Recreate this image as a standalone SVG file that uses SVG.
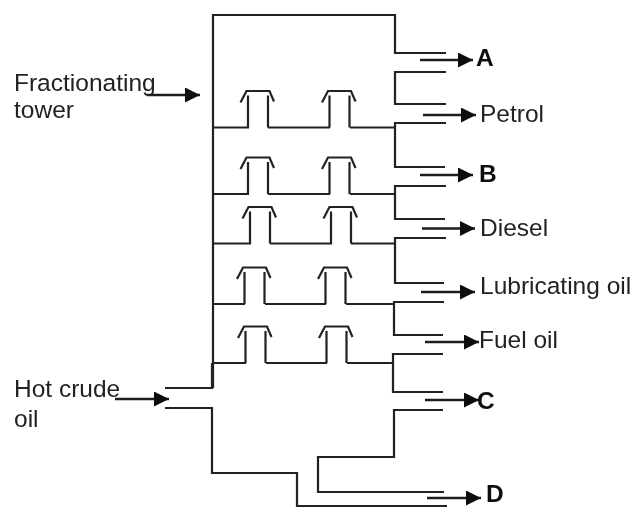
<svg xmlns="http://www.w3.org/2000/svg" width="633" height="508" viewBox="0 0 633 508">
<style>
.l{fill:none;stroke:#222;stroke-width:2.200}
.a{fill:none;stroke:#1a1a1a;stroke-width:2.400}
.c{fill:none;stroke:#222;stroke-width:2.200;stroke-linejoin:miter}
text{font-family:"Liberation Sans",Arial,sans-serif;font-size:24.500px;fill:#222}
.b{font-weight:bold;fill:#111}
.s{filter:url(#soft)}
</style>
<defs>
<filter id="soft" x="0" y="0" width="633" height="508" filterUnits="userSpaceOnUse"><feGaussianBlur stdDeviation="0.450"/></filter>
<marker id="h" markerUnits="userSpaceOnUse" markerWidth="15" markerHeight="15" refX="15" refY="7.500" orient="auto"><path d="M0 0L15 7.500L0 15Z" fill="#111"/></marker>
<path id="cap" class="c" d="M0 0V-32M20 0V-32M-7.500 -25L-1.500 -36.500H21.500L26 -26"/>
</defs>
<rect width="633" height="508" fill="#fff"/>
<g class="s">
<g id="connectors">
<path class="l" d="M213 388V15H395V53H446"/>
<path class="l" d="M446 72H395V104H446"/>
<path class="l" d="M446 123H395V167H445"/>
<path class="l" d="M446 186H395V219H445"/>
<path class="l" d="M446 238H395V283H444"/>
<path class="l" d="M444 302H394V335H443"/>
<path class="l" d="M443 354H393V392H443"/>
<path class="l" d="M443 410H394V457H318V492H444"/>
<path class="l" d="M165 388H212V363M165 408H212V473H297V506H447"/>
<path class="l" d="M213 127.500H249M268 127.500H330M350 127.500H395"/>
<path class="l" d="M213 194H249M268 194H330M350 194H395"/>
<path class="l" d="M213 243.500H251M270 243.500H332M351 243.500H395"/>
<path class="l" d="M213 304H245M265 304H326M346 304H394"/>
<path class="l" d="M213 363H246M266 363H327M347 363H393"/>
<path class="a" marker-end="url(#h)" d="M147 95H200"/>
<path class="a" marker-end="url(#h)" d="M115 399H169"/>
<path class="a" marker-end="url(#h)" d="M420 60H473"/>
<path class="a" marker-end="url(#h)" d="M423 115H476"/>
<path class="a" marker-end="url(#h)" d="M420 175H473"/>
<path class="a" marker-end="url(#h)" d="M422 228.500H475"/>
<path class="a" marker-end="url(#h)" d="M421 292H475"/>
<path class="a" marker-end="url(#h)" d="M425 342H479"/>
<path class="a" marker-end="url(#h)" d="M425 400H479"/>
<path class="a" marker-end="url(#h)" d="M427 498H481"/>
</g>
<g id="caps">
<use href="#cap" x="248" y="127.500"/><use href="#cap" x="329.500" y="127.500"/>
<use href="#cap" x="248" y="194"/><use href="#cap" x="329.500" y="194"/>
<use href="#cap" x="250" y="243.500"/><use href="#cap" x="331" y="243.500"/>
<use href="#cap" x="244.500" y="304"/><use href="#cap" x="325.500" y="304"/>
<use href="#cap" x="245.500" y="363"/><use href="#cap" x="326.500" y="363"/>
</g>
<g id="label-tower"><text x="14" y="91">Fractionating</text><text x="14" y="118">tower</text></g>
<g id="label-crude"><text x="14" y="397">Hot crude</text><text x="14" y="427">oil</text></g>
<g id="label-a"><text class="b" x="476" y="66">A</text></g>
<g id="label-petrol"><text x="480" y="122">Petrol</text></g>
<g id="label-b"><text class="b" x="479" y="182">B</text></g>
<g id="label-diesel"><text x="480" y="236">Diesel</text></g>
<g id="label-lub"><text x="480" y="294">Lubricating oil</text></g>
<g id="label-fuel"><text x="479" y="348">Fuel oil</text></g>
<g id="label-c"><text class="b" x="477" y="409">C</text></g>
<g id="label-d"><text class="b" x="486" y="502">D</text></g>
</g>
</svg>
